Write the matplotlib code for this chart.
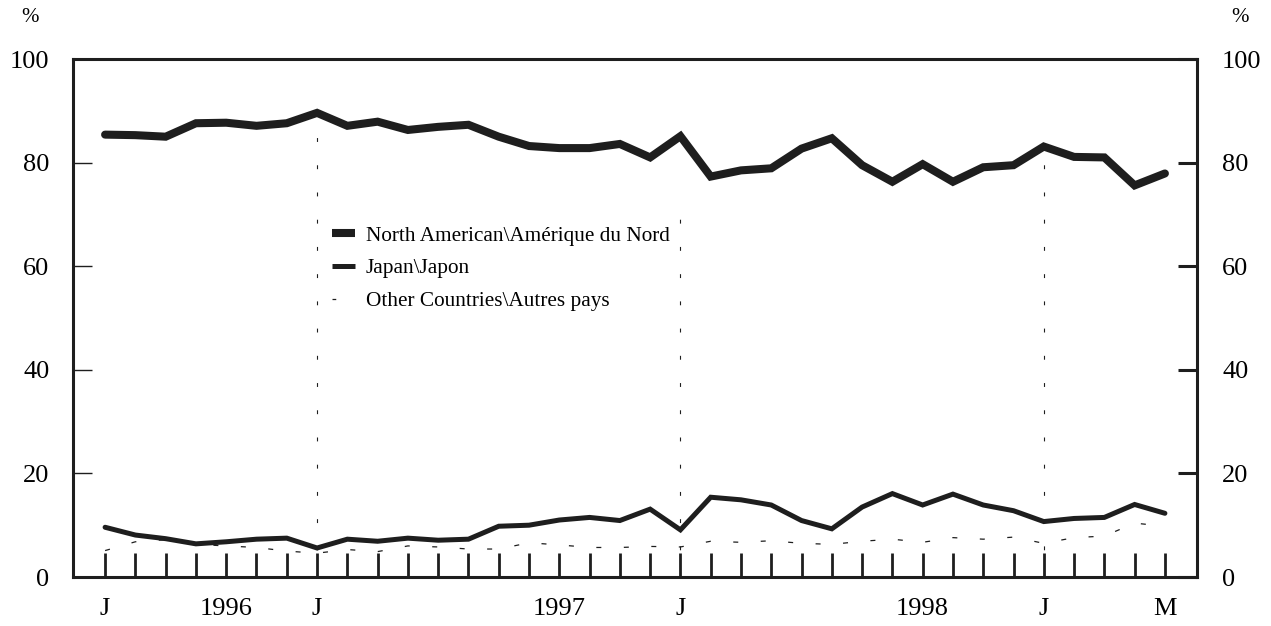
import matplotlib
matplotlib.use("Agg")
import matplotlib.pyplot as plt
import numpy as np
from matplotlib.lines import Line2D

plt.rcParams['font.family'] = ['Liberation Serif', 'DejaVu Serif']

# ---- data (monthly, June 1995 .. May 1998) ----
north_america = [85.4, 85.3, 85.0, 87.6, 87.7, 87.1, 87.6, 89.6, 87.1, 87.9,
                 86.3, 86.9, 87.3, 85.0, 83.2, 82.8, 82.8, 83.6, 81.0, 85.1,
                 77.3, 78.5, 78.9, 82.7, 84.7, 79.5, 76.3, 79.7, 76.3, 79.1,
                 79.5, 83.1, 81.1, 81.0, 75.6, 77.9]
japan = [9.6, 8.1, 7.4, 6.4, 6.8, 7.3, 7.5, 5.6, 7.3, 6.9,
         7.5, 7.1, 7.3, 9.8, 10.0, 11.0, 11.5, 10.9, 13.1, 9.1,
         15.4, 14.9, 13.9, 10.9, 9.3, 13.5, 16.1, 13.9, 16.0, 13.9,
         12.8, 10.7, 11.3, 11.5, 14.0, 12.3]
other = [5.1, 6.8, 7.2, 6.3, 6.0, 5.7, 5.0, 4.6, 5.3, 4.9,
         6.0, 5.8, 5.4, 5.4, 6.6, 6.2, 5.7, 5.7, 5.9, 5.8,
         6.9, 6.7, 7.0, 6.5, 6.3, 6.9, 7.3, 6.7, 7.6, 7.3,
         7.7, 6.5, 7.6, 7.9, 10.4, 9.8]

month_labels = ['J', '', '', '', '1996', '', '', 'J', '', '', '', '', '', '', '',
                '1997', '', '', '', 'J', '', '', '', '', '', '', '', '1998', '', '',
                '', 'J', '', '', '', 'M']

separator_months = [7, 19, 31]
separator_tops = [86.0, 73.5, 82.0]

series_names = ['North American\\Amérique du Nord', 'Japan\\Japon',
                'Other Countries\\Autres pays']

y_ticks = [0, 20, 40, 60, 80, 100]

# ---- figure ----
W, H, DPI = 1271, 626, 100
fig = plt.figure(figsize=(W / DPI, H / DPI), dpi=DPI)
ax = fig.add_axes([73 / W, 49 / H, (1197 - 73) / W, (577 - 59) / H])

ink = '#1e1e1e'
x = np.arange(len(north_america))

# separators (dotted verticals)
for m, top in zip(separator_months, separator_tops):
    ax.plot([m, m], [0, top], color=ink, lw=0.8, linestyle=(0, (3.5, 21)),
            zorder=1)

ax.plot(x, other, color=ink, lw=0.9, linestyle=(0, (4, 18)), zorder=2)
ax.plot(x, japan, color=ink, lw=3.6, solid_joinstyle='miter',
        solid_capstyle='round', zorder=3)
ax.plot(x, north_america, color=ink, lw=5.8, solid_joinstyle='miter',
        solid_capstyle='round', zorder=4)

ax.set_xlim(-1.06, 36.06)
ax.set_ylim(0, 100)

ax.set_xticks(x)
ax.set_xticklabels(month_labels)
ax.set_yticks(y_ticks)

for s in ax.spines.values():
    s.set_linewidth(2.2)
    s.set_color(ink)

ax.tick_params(axis='x', direction='in', length=17, width=2.0, color=ink,
               labelsize=19, pad=15)
ax.tick_params(axis='y', which='both', direction='in', length=14, width=1.0,
               color=ink, labelsize=19, pad=17, left=True, right=True,
               labelleft=True, labelright=False)

# right axis labels/ticks
ax2 = ax.twinx()
ax2.set_ylim(0, 100)
ax2.set_yticks(y_ticks)
ax2.tick_params(axis='y', direction='in', length=14, width=2.2, color=ink,
                labelsize=19, pad=18)
for s in ax2.spines.values():
    s.set_visible(False)

fig.text(30 / W, 1 - 18 / H, '%', fontsize=15, ha='center', va='center')
fig.text(1240 / W, 1 - 18 / H, '%', fontsize=15, ha='center', va='center')

handles = [Line2D([], [], color=ink, lw=5.8, solid_capstyle='butt'),
           Line2D([], [], color=ink, lw=3.6, solid_capstyle='butt'),
           Line2D([], [], color=ink, lw=0.9, linestyle=(0, (3, 40)))]
leg = ax2.legend(handles, series_names, loc='upper left',
                 bbox_to_anchor=((332 - 73) / (1197 - 73), (577 - 226) / (577 - 59)),
                 frameon=False, fontsize=15.3, handlelength=1.08,
                 handletextpad=0.5, labelspacing=0.6, borderpad=0,
                 borderaxespad=0)

fig.savefig('out.png', dpi=DPI)
